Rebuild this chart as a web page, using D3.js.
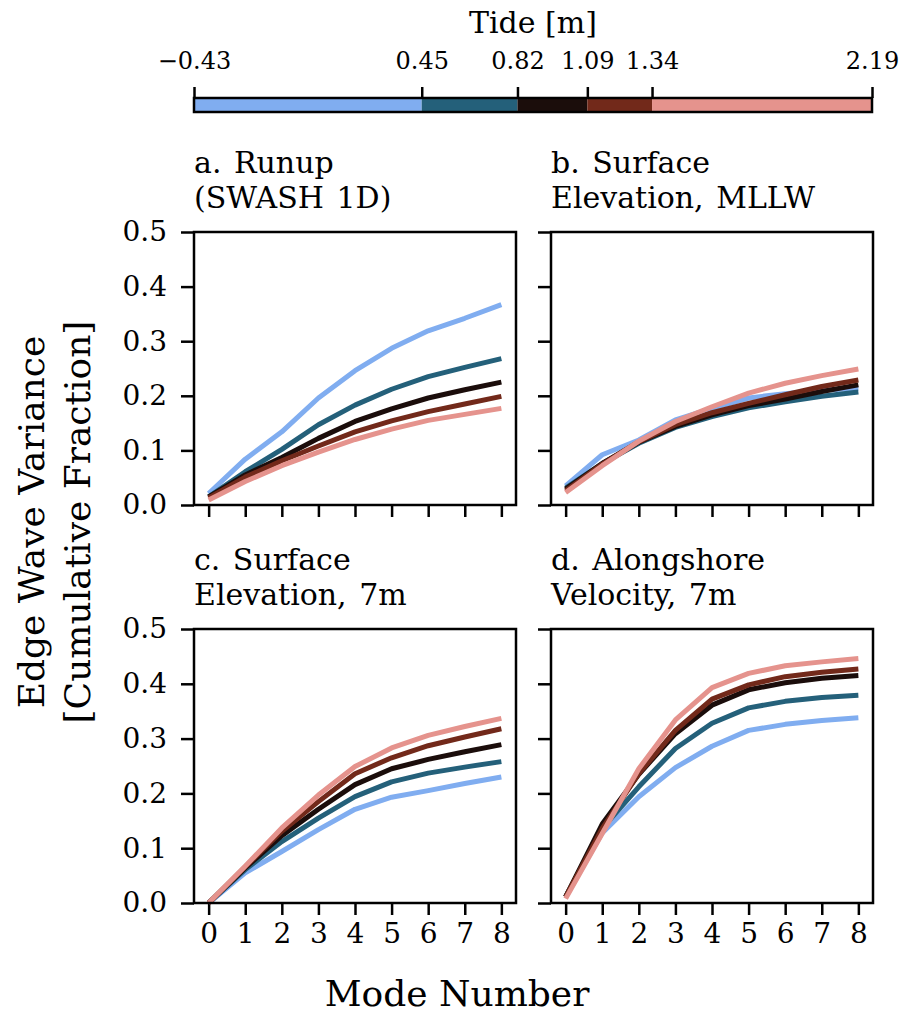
<!DOCTYPE html>
<html>
<head>
<meta charset="utf-8">
<script src="https://cdn.jsdelivr.net/npm/d3@7"></script>
<style>
  body { margin: 0; background: #fff; }
  svg { font-family: "DejaVu Serif", serif; }
</style>
</head>
<body>
<div id="chart"></div>
<script>
/* DATA */
const modes = [0, 1, 2, 3, 4, 5, 6, 7, 8];
const yTicks = [0, 0.1, 0.2, 0.3, 0.4, 0.5];
const tideBreaks = [-0.43, 0.45, 0.82, 1.09, 1.34, 2.19];
const tideColors = ["#80adf0", "#24607a", "#1b0d0b", "#72291a", "#e5938d"];

// one row per tide bin, low -> high
const runup = [
  [0.021, 0.084, 0.134, 0.196, 0.246, 0.287, 0.319, 0.342, 0.367],
  [0.015, 0.061, 0.102, 0.147, 0.183, 0.212, 0.235, 0.252, 0.268],
  [0.015, 0.055, 0.087, 0.122, 0.153, 0.176, 0.196, 0.211, 0.225],
  [0.013, 0.051, 0.081, 0.108, 0.134, 0.154, 0.171, 0.185, 0.199],
  [0.009, 0.043, 0.072, 0.097, 0.120, 0.139, 0.155, 0.166, 0.177]
];
const elevMLLW = [
  [0.035, 0.092, 0.119, 0.156, 0.177, 0.196, 0.204, 0.210, 0.214],
  [0.031, 0.076, 0.113, 0.142, 0.162, 0.178, 0.189, 0.199, 0.207],
  [0.029, 0.076, 0.115, 0.144, 0.165, 0.182, 0.194, 0.208, 0.220],
  [0.026, 0.075, 0.116, 0.147, 0.169, 0.186, 0.202, 0.217, 0.229],
  [0.023, 0.072, 0.117, 0.153, 0.180, 0.205, 0.223, 0.237, 0.249]
];
const elev7m = [
  [0.000, 0.055, 0.094, 0.134, 0.171, 0.193, 0.205, 0.218, 0.230],
  [0.000, 0.061, 0.112, 0.155, 0.194, 0.221, 0.237, 0.248, 0.258],
  [0.000, 0.064, 0.123, 0.171, 0.216, 0.245, 0.262, 0.276, 0.289],
  [0.000, 0.066, 0.131, 0.185, 0.236, 0.265, 0.287, 0.303, 0.318],
  [0.000, 0.067, 0.137, 0.197, 0.249, 0.283, 0.306, 0.322, 0.337]
];
const velo7m = [
  [0.011, 0.128, 0.194, 0.247, 0.286, 0.315, 0.326, 0.333, 0.338],
  [0.011, 0.136, 0.212, 0.282, 0.328, 0.356, 0.368, 0.375, 0.379],
  [0.011, 0.144, 0.235, 0.309, 0.361, 0.389, 0.402, 0.410, 0.415],
  [0.011, 0.136, 0.236, 0.315, 0.372, 0.398, 0.413, 0.421, 0.427],
  [0.008, 0.127, 0.245, 0.334, 0.393, 0.419, 0.433, 0.440, 0.446]
];
const panelTitles = [
  ["a. Runup", "(SWASH 1D)"],
  ["b. Surface", "Elevation, MLLW"],
  ["c. Surface", "Elevation, 7m"],
  ["d. Alongshore", "Velocity, 7m"]
];
const panelSeries = [runup, elevMLLW, elev7m, velo7m];

/* LAYOUT */
const W = 903, H = 1017;
const fs = 28;
const cols = [[194, 516], [551, 873]];
const rows = [[232, 505], [629, 903]];

const svg = d3.select("#chart").append("svg")
  .attr("width", W)
  .attr("height", H);

// + COLORBAR
const cScale = d3.scaleLinear()
  .domain([tideBreaks[0], tideBreaks[tideBreaks.length - 1]])
  .range([194, 872]);
const cbY = 98, cbH = 14;
const cb = svg.append("g");
cb.selectAll("rect.seg")
  .data(tideColors)
  .join("rect")
  .attr("class", "seg")
  .attr("x", (d, i) => cScale(tideBreaks[i]))
  .attr("width", (d, i) => cScale(tideBreaks[i + 1]) - cScale(tideBreaks[i]))
  .attr("y", cbY)
  .attr("height", cbH)
  .attr("fill", d => d);
cb.append("rect")
  .attr("x", cScale.range()[0]).attr("y", cbY)
  .attr("width", cScale.range()[1] - cScale.range()[0]).attr("height", cbH)
  .attr("fill", "none").attr("stroke", "#000").attr("stroke-width", 2.5);
const cbAxis = cb.append("g")
  .attr("transform", `translate(0, ${cbY})`)
  .call(d3.axisTop(cScale).tickValues(tideBreaks).tickFormat(d3.format(".2f")).tickSize(11).tickPadding(18));
cbAxis.select(".domain").remove();
cbAxis.selectAll("line").attr("stroke-width", 2.5);
cbAxis.selectAll("text").attr("font-size", 24).attr("font-family", "DejaVu Serif").attr("fill", "#000");
svg.append("text")
  .attr("x", 533).attr("y", 33)
  .attr("text-anchor", "middle")
  .attr("font-size", 30)
  .text("Tide [m]");

// + PANELS
panelSeries.forEach((series, p) => {
  const c = p % 2, r = Math.floor(p / 2);
  const x = d3.scaleLinear().domain([-0.4, 8.4]).range(cols[c]);
  const y = d3.scaleLinear().domain([0, 0.5]).range([rows[r][1], rows[r][0]]);
  const g = svg.append("g");

  const yAxis = d3.axisLeft(y).tickValues(yTicks).tickSize(13).tickPadding(14)
    .tickFormat(c === 0 ? d3.format(".1f") : "");
  const yG = g.append("g").attr("transform", `translate(${cols[c][0]},0)`).call(yAxis);
  const xAxis = d3.axisBottom(x).tickValues(modes).tickSize(12).tickPadding(8)
    .tickFormat(r === 1 ? d3.format("d") : "");
  const xG = g.append("g").attr("transform", `translate(0,${rows[r][1]})`).call(xAxis);
  [yG, xG].forEach(a => {
    a.select(".domain").remove();
    a.selectAll("line").attr("stroke-width", 2.5);
    a.selectAll("text").attr("font-size", fs).attr("font-family", "DejaVu Serif").attr("fill", "#000");
  });

  const line = d3.line()
    .x((d, i) => x(modes[i]))
    .y(d => y(d));
  g.selectAll("path.series")
    .data(series)
    .join("path")
    .attr("class", "series")
    .attr("fill", "none")
    .attr("stroke", (d, i) => tideColors[i])
    .attr("stroke-width", 5)
    .attr("stroke-linejoin", "round")
    .attr("d", d => line(d));

  g.append("rect")
    .attr("x", cols[c][0]).attr("y", rows[r][0])
    .attr("width", cols[c][1] - cols[c][0]).attr("height", rows[r][1] - rows[r][0])
    .attr("fill", "none").attr("stroke", "#000").attr("stroke-width", 2.5);

  g.selectAll("text.title")
    .data(panelTitles[p])
    .join("text")
    .attr("class", "title")
    .attr("x", cols[c][0])
    .attr("y", (d, i) => rows[r][0] - 59 + i * 35)
    .attr("font-size", 30)
    .attr("word-spacing", 3)
    .text(d => d);
});

// + AXIS LABELS
svg.append("text")
  .attr("x", 457).attr("y", 1006)
  .attr("text-anchor", "middle")
  .attr("font-size", 36)
  .text("Mode Number");
const yl = svg.append("text")
  .attr("transform", "translate(0,522) rotate(-90)")
  .attr("text-anchor", "middle")
  .attr("font-size", 36);
yl.append("tspan").attr("x", 0).attr("y", 44).text("Edge Wave Variance");
yl.append("tspan").attr("x", 0).attr("y", 90).text("[Cumulative Fraction]");
</script>
</body>
</html>
